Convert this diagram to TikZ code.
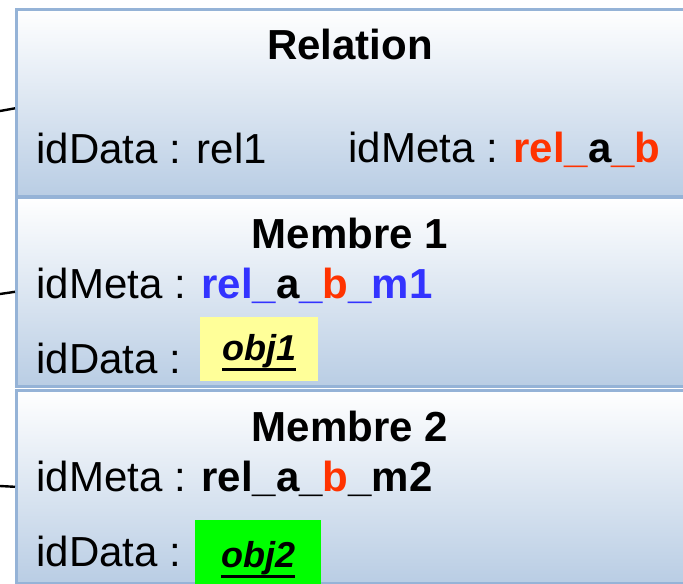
\documentclass[tikz,border=0pt]{standalone}
\usepackage{fontspec}
\setmainfont{Liberation Sans}
\usetikzlibrary{calc}
\definecolor{boxline}{RGB}{149,179,215}
\definecolor{boxbottom}{RGB}{185,205,228}
\definecolor{relred}{RGB}{255,51,0}
\definecolor{relblue}{RGB}{51,51,255}
\definecolor{objyellow}{RGB}{255,255,153}
\definecolor{objgreen}{RGB}{0,255,0}
\newsavebox\objtextbox
\newcommand\objname[1]{\sbox\objtextbox{\textbf{\textit{#1}}}%
  \rlap{\rule[-5.2pt]{\wd\objtextbox}{1.5pt}}\usebox\objtextbox}

\begin{document}
\begin{tikzpicture}[x=0.5pt,y=-0.5pt,
  classbox/.style={draw=boxline,line width=1.3pt,top color=white,
    bottom color=boxbottom,anchor=north west,inner sep=0pt,minimum width=360pt},
  txt/.style={inner sep=0pt,anchor=base west,font=\fontsize{21}{25}\selectfont},
  ttl/.style={inner sep=0pt,anchor=base,font=\fontsize{21}{25}\selectfont\bfseries},
  objbox/.style={inner sep=0pt,anchor=north west,align=center,
    font=\fontsize{18}{21}\selectfont},
  wire/.style={black,line width=1.2pt}]

  \useasboundingbox (0,0) rectangle (683,583);
  \clip (0,0) rectangle (683,583);

  %% the three compartments
  \node[classbox,minimum height=93.5pt] (rel) at (15,8) {};
  \node[classbox,minimum height=94.5pt] (mb1) at (15,196) {};
  \node[classbox,minimum height=96.5pt] (mb2) at (15,389) {};

  %% wires coming in from the left
  \coordinate (in1) at (0,111);
  \coordinate (in2) at (0,294);
  \coordinate (in3) at (0,486);
  \draw[wire] (in1) -- ($(rel.west)+(0,5.5)$);
  \draw[wire] (in2) -- (mb1.west);
  \draw[wire] (in3) -- (mb2.west);

  %% Relation
  \node[ttl] (reltitle) at (350,60) {Relation};
  \node[txt] (reldata) at (36,163) {idData : rel1};
  \node[txt] (relmeta) at (348,162)
    {idMeta : \textbf{\color{relred}rel\_{\color{black}a}\_b}};

  %% Membre 1
  \node[ttl] (m1title) at (350,248) {Membre 1};
  \node[txt] (m1meta) at (36,298)
    {idMeta : \textbf{\color{relblue}rel\_{\color{black}a}\_{\color{relred}b}\_m1}};
  \node[txt] (m1data) at (36,373) {idData :};
  \node[objbox,fill=objyellow,minimum width=59pt,
    text height=21.5pt,text depth=10.5pt] (obj1) at (200,317) {\objname{obj1}};

  %% Membre 2
  \node[ttl] (m2title) at (350,441) {Membre 2};
  \node[txt] (m2meta) at (36,491)
    {idMeta : \textbf{rel\_a\_{\color{relred}b}\_m2}};
  \node[txt] (m2data) at (36,566) {idData :};
  \node[objbox,fill=objgreen,minimum width=63pt,
    text height=23.5pt,text depth=8.5pt] (obj2) at (195,520) {\objname{obj2}};

\end{tikzpicture}
\end{document}
